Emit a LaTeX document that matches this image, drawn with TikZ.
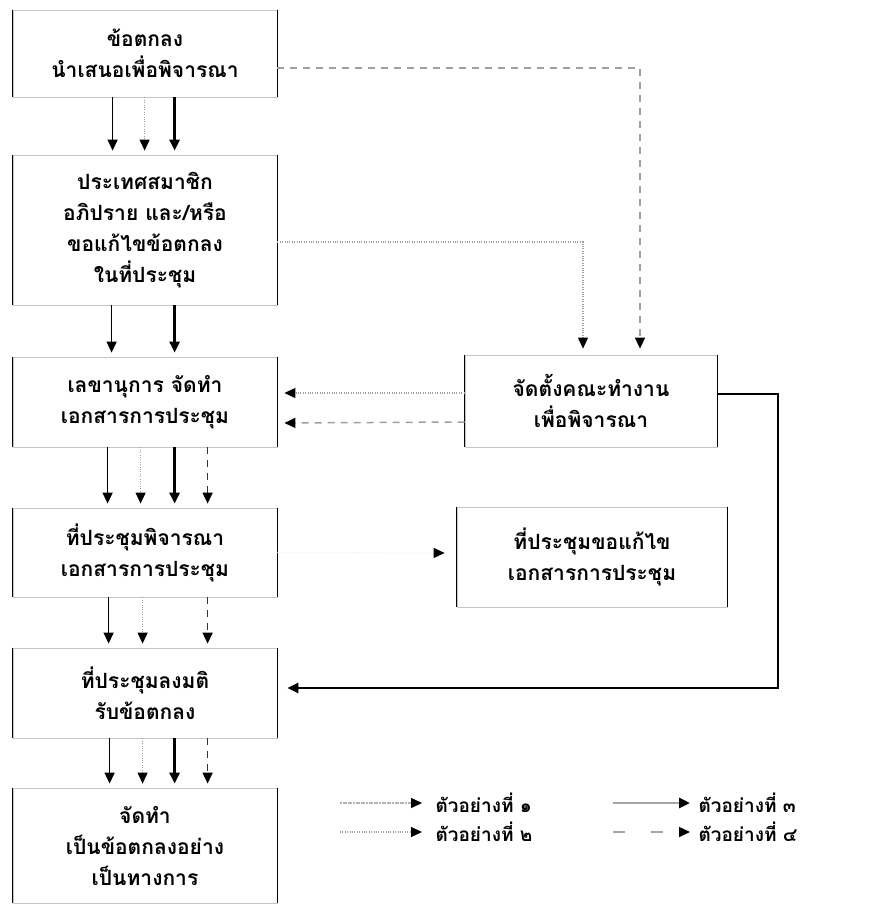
\documentclass[tikz,border=0pt]{standalone}
\usepackage{fontspec}
\newfontfamily\thai[Script=Thai]{Loma}
\usetikzlibrary{arrows.meta}
\begin{document}
\begin{tikzpicture}[x=1pt,y=1pt,
  box/.style={draw=gray!45,line width=0.8pt,inner sep=0pt,align=center,
    font=\thai\bfseries\fontsize{21}{31}\selectfont},
  tip/.style={-{Triangle[length=11pt,width=10pt,color=black]}},
  exA/.style={tip,line width=1.4pt,black},
  exB/.style={tip,line width=1.1pt,gray!75,dash pattern=on 1pt off 1.4pt},
  exC/.style={tip,line width=2.8pt,black},
  exD/.style={tip,line width=1.5pt,black!80,dash pattern=on 7pt off 6pt},
  lab/.style={anchor=west,font=\thai\bfseries\fontsize{19}{24}\selectfont}]
\useasboundingbox (0,0) rectangle (871,-913);
% left column
\node[box,minimum width=264,minimum height=87] (b1) at (145,-53.5) {ข้อตกลง\\นำเสนอเพื่อพิจารณา};
\node[box,minimum width=264,minimum height=150] (b2) at (145,-230) {ประเทศสมาชิก\\อภิปราย และ/หรือ\\ขอแก้ไขข้อตกลง\\ในที่ประชุม};
\node[box,minimum width=264,minimum height=90] (b3) at (145,-402) {เลขานุการ จัดทำ\\เอกสารการประชุม};
\node[box,minimum width=264,minimum height=89] (b4) at (145,-552.5) {ที่ประชุมพิจารณา\\เอกสารการประชุม};
\node[box,minimum width=264,minimum height=90] (b5) at (145,-693) {ที่ประชุมลงมติ\\รับข้อตกลง};
\node[box,minimum width=264,minimum height=115] (b6) at (145,-845.5) {จัดทำ\\เป็นข้อตกลงอย่าง\\เป็นทางการ};
% right column
\node[box,minimum width=252,minimum height=92] (bA) at (591,-401) {จัดตั้งคณะทำงาน\\เพื่อพิจารณา};
\node[box,minimum width=270,minimum height=100] (bB) at (592,-557) {ที่ประชุมขอแก้ไข\\เอกสารการประชุม};
% dark vertical sides as in the scan
\foreach \n in {b1,b2,b3,b4,b5,b6,bA,bB}{
  \draw[line width=1.3pt] (\n.north west) -- (\n.south west);
  \draw[line width=1.3pt] (\n.north east) -- (\n.south east);
}
% vertical flow arrows
\foreach \a/\b/\kinds in {b1/b2/{A/100,B/132,C/162},b2/b3/{A/99,C/162},b3/b4/{A/95,B/128,C/162,D/195},b4/b5/{A/96,B/130,D/195},b5/b6/{A/97,B/130,C/162,D/195}}{
  \foreach \k/\dx in \kinds {
    \draw[ex\k,shorten >=4pt] ([xshift=\dx]\a.south west) -- ([xshift=\dx]\b.north west);
  }
}
% side connectors
\draw[exD,gray!75,shorten >=6pt] ([yshift=-14.5]b1.east) -| ([xshift=49]bA.north);
\draw[exB,shorten >=6pt] ([yshift=-12]b2.east) -| ([xshift=-8]bA.north);
\draw[exB,shorten >=7pt] ([yshift=8]bA.west) -- ([yshift=9]b3.east);
\draw[exD,gray!75,shorten >=7pt] ([yshift=-21]bA.west) -- ([yshift=-21]b3.east);
\coordinate (r1) at (778,-394);
\coordinate (r2) at (778,-688);
\draw[exC,shorten >=10pt] ([yshift=7]bA.east) -- (r1) -- (r2) -- ([yshift=5]b5.east);
\draw[exB,gray!12,shorten >=12pt] (b4.east) -- ([yshift=4]bB.west);
% legend
\coordinate (l1s) at (340,-803); \coordinate (l1e) at (422,-803);
\coordinate (l2s) at (340,-832); \coordinate (l2e) at (422,-832);
\coordinate (l3s) at (613,-803); \coordinate (l3e) at (690,-803);
\coordinate (l4s) at (613,-832); \coordinate (l4e) at (690,-832);
\draw[exA,gray!60,dash pattern=on 2pt off 0.6pt] (l1s) -- (l1e);
\draw[exB] (l2s) -- (l2e);
\draw[exC,gray!70] (l3s) -- (l3e);
\draw[exD,gray!70,dash pattern=on 12pt off 26pt] (l4s) -- (l4e);
\node[lab] (t1) at (432,-803) {ตัวอย่างที่ ๑};
\node[lab] (t2) at (432,-832) {ตัวอย่างที่ ๒};
\node[lab] (t3) at (695,-803) {ตัวอย่างที่ ๓};
\node[lab] (t4) at (695,-832) {ตัวอย่างที่ ๔};
\end{tikzpicture}
\end{document}
